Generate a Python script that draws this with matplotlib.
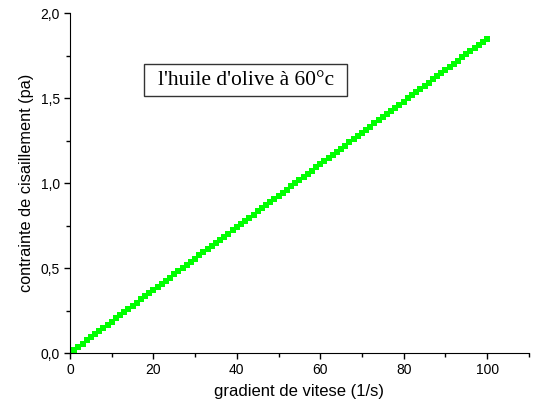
import matplotlib
matplotlib.use('Agg')
import matplotlib.pyplot as plt
from matplotlib.patches import Rectangle
from matplotlib.ticker import MultipleLocator, FuncFormatter

# shear rate (1/s) and shear stress (pa)
gradient = list(range(1, 101))
contrainte = [
    0.018, 0.037, 0.056, 0.074, 0.093, 0.111, 0.130, 0.148, 0.167, 0.185,
    0.204, 0.222, 0.241, 0.259, 0.278, 0.296, 0.315, 0.333, 0.352, 0.370,
    0.389, 0.407, 0.426, 0.444, 0.463, 0.481, 0.500, 0.518, 0.537, 0.555,
    0.574, 0.592, 0.611, 0.629, 0.648, 0.666, 0.685, 0.703, 0.722, 0.740,
    0.759, 0.777, 0.796, 0.814, 0.833, 0.851, 0.870, 0.888, 0.907, 0.925,
    0.944, 0.962, 0.981, 0.999, 1.018, 1.036, 1.055, 1.073, 1.092, 1.110,
    1.129, 1.147, 1.166, 1.184, 1.203, 1.221, 1.240, 1.258, 1.277, 1.295,
    1.314, 1.332, 1.351, 1.369, 1.388, 1.406, 1.425, 1.443, 1.462, 1.480,
    1.499, 1.517, 1.536, 1.554, 1.573, 1.591, 1.610, 1.628, 1.647, 1.665,
    1.684, 1.702, 1.721, 1.739, 1.758, 1.776, 1.795, 1.813, 1.832, 1.850,
]

plt.rcParams['font.family'] = ['Liberation Sans', 'DejaVu Sans']

fig = plt.figure(figsize=(5.41, 4.16), dpi=100)
ax = fig.add_axes([0.1294, 0.1514, 0.848, 0.817])

ax.plot(gradient, contrainte, 's', color='#00ff00', ms=5, mec='#00ff00', mew=0)

ax.set_xlim(0, 110)
ax.set_ylim(0, 2.0)
ax.xaxis.set_major_locator(MultipleLocator(20))
ax.xaxis.set_minor_locator(MultipleLocator(10))
ax.yaxis.set_major_locator(MultipleLocator(0.5))
ax.yaxis.set_minor_locator(MultipleLocator(0.25))
ax.yaxis.set_major_formatter(FuncFormatter(lambda v, p: f'{v:.1f}'.replace('.', ',')))

for s in ('top', 'right'):
    ax.spines[s].set_visible(False)
ax.tick_params(which='major', direction='out', length=4.3, width=1,
               labelsize=10, pad=3)
ax.tick_params(which='minor', direction='out', length=2.6, width=1)

ax.set_xlabel('gradient de vitese (1/s)', fontsize=12, labelpad=5)
ax.set_ylabel('contrainte de cisaillement (pa)', fontsize=11.7, labelpad=5)

ax.add_patch(Rectangle((0.161, 0.756), 0.442, 0.094, transform=ax.transAxes,
                       fc='white', ec='#333333', lw=1, zorder=3))
ax.text(0.383, 0.801, "l'huile d'olive à 60°c", transform=ax.transAxes,
        ha='center', va='center', fontsize=15.5, family='Liberation Serif',
        zorder=4)

fig.savefig('out.png', dpi=100)
